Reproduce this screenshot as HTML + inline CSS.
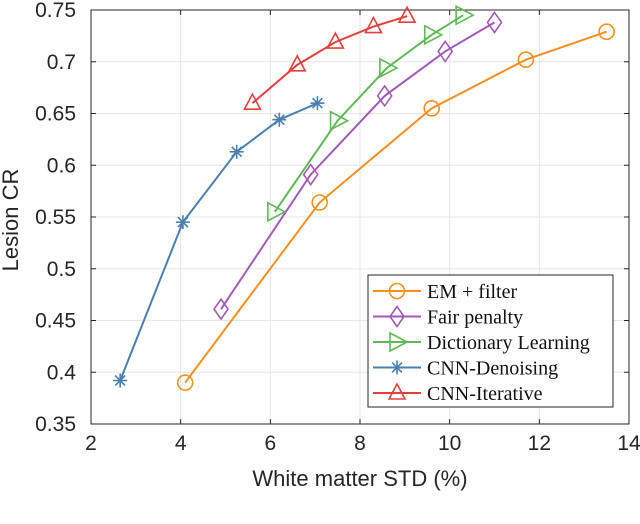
<!DOCTYPE html>
<html><head><meta charset="utf-8"><style>
body{margin:0;background:#fff;width:640px;height:519px;overflow:hidden}
svg text{font-family:"Liberation Sans",sans-serif}
</style></head><body>
<svg id="chart" width="640" height="519" xmlns="http://www.w3.org/2000/svg"></svg>
<script>
const xTicks=[2,4,6,8,10,12,14];
const yTicks=[0.35,0.4,0.45,0.5,0.55,0.6,0.65,0.7,0.75];
const yTickLabels=["0.35","0.4","0.45","0.5","0.55","0.6","0.65","0.7","0.75"];
const seriesNames=["EM + filter","Fair penalty","Dictionary Learning","CNN-Denoising","CNN-Iterative"];
const emX=[4.1,7.1,9.6,11.7,13.5];
const emY=[0.39,0.564,0.655,0.702,0.729];
const fairX=[4.9,6.9,8.55,9.9,11];
const fairY=[0.461,0.591,0.667,0.71,0.738];
const dictX=[6.1,7.5,8.6,9.6,10.3];
const dictY=[0.555,0.643,0.694,0.726,0.745];
const cnndX=[2.65,4.05,5.25,6.2,7.05];
const cnndY=[0.392,0.545,0.613,0.644,0.66];
const cnniX=[5.6,6.6,7.45,8.3,9.05];
const cnniY=[0.66,0.697,0.719,0.734,0.744];

const L=91,R=629,T=10,B=424;
const xs=v=>L+(v-2)/12*(R-L);
const ys=v=>B-(v-0.35)/0.4*(B-T);
const svg=document.getElementById('chart');
const NS="http://www.w3.org/2000/svg";
function mk(tag,at,parent){const e=document.createElementNS(NS,tag);for(const k in at)e.setAttribute(k,at[k]);(parent||svg).appendChild(e);return e;}

const grid=mk('g',{});


xTicks.forEach(t=>{mk('line',{x1:xs(t),x2:xs(t),y1:T,y2:B,stroke:'#e6e6e6','stroke-width':1},grid);});
yTicks.forEach(t=>{mk('line',{x1:L,x2:R,y1:ys(t),y2:ys(t),stroke:'#e6e6e6','stroke-width':1},grid);});
const fr=mk('rect',{x:L,y:T,width:R-L,height:B-T,fill:'none',stroke:'#262626','stroke-width':1});


xTicks.forEach(t=>{
  mk('line',{x1:xs(t),x2:xs(t),y1:B,y2:B-5,stroke:'#262626'});
  mk('line',{x1:xs(t),x2:xs(t),y1:T,y2:T+5,stroke:'#262626'});
  const tx=mk('text',{x:xs(t),y:B+26,'text-anchor':'middle','font-size':21,fill:'#262626'});
  tx.textContent=t;
  
  
});
yTicks.forEach((t,i)=>{
  mk('line',{x1:L,x2:L+5,y1:ys(t),y2:ys(t),stroke:'#262626'});
  mk('line',{x1:R,x2:R-5,y1:ys(t),y2:ys(t),stroke:'#262626'});
  const tx=mk('text',{x:L-15,y:ys(t)+7,'text-anchor':'end','font-size':21,fill:'#262626'});
  tx.textContent=yTickLabels[i];
  
  
});
const xt=mk('text',{x:(L+R)/2,y:486,'text-anchor':'middle','font-size':22,fill:'#262626'});
xt.textContent='White matter STD (%)';


const yt=mk('text',{x:0,y:0,'text-anchor':'middle','font-size':22,fill:'#262626',transform:'translate(18,220) rotate(-90)'});
yt.textContent='Lesion CR';



function marker(g,type,x,y,c){
  const s={fill:'none',stroke:c,'stroke-width':1.6};
  if(type==='o')mk('circle',Object.assign({cx:x,cy:y,r:7.5},s),g);
  else if(type==='d')mk('polygon',Object.assign({points:`${x},${y-10} ${x+7},${y} ${x},${y+10} ${x-7},${y}`},s),g);
  else if(type==='>')mk('polygon',Object.assign({points:`${x-7},${y-9} ${x+10},${y} ${x-7},${y+9}`},s),g);
  else if(type==='^')mk('polygon',Object.assign({points:`${x},${y-9} ${x+8},${y+6} ${x-8},${y+6}`},s),g);
  else if(type==='*'){for(let a=0;a<4;a++){const an=a*Math.PI/4,dx=7*Math.cos(an),dy=7*Math.sin(an);mk('line',Object.assign({x1:x-dx,y1:y-dy,x2:x+dx,y2:y+dy},s),g);}}
}
const series=[
 {x:emX,y:emY,c:'#f7901e',m:'o',n:'series-em-filter'},
 {x:fairX,y:fairY,c:'#a25ab8',m:'d',n:'series-fair-penalty'},
 {x:dictX,y:dictY,c:'#5fb955',m:'>',n:'series-dictionary-learning'},
 {x:cnndX,y:cnndY,c:'#4a7fb0',m:'*',n:'series-cnn-denoising'},
 {x:cnniX,y:cnniY,c:'#e5403c',m:'^',n:'series-cnn-iterative'}];
series.forEach(s=>{
  const g=mk('g',{});
  
  
  mk('polyline',{points:s.x.map((v,i)=>xs(v)+','+ys(s.y[i])).join(' '),fill:'none',stroke:s.c,'stroke-width':2},g);
  s.x.forEach((v,i)=>marker(g,s.m,xs(v),ys(s.y[i]),s.c));
});
const lg=mk('g',{});


mk('rect',{x:368,y:275,width:245,height:132,fill:'#fff',stroke:'#262626','stroke-width':1},lg);
series.forEach((s,i)=>{
  const y=291+i*25.5;
  const e=mk('g',{},lg);
  
  
  mk('line',{x1:373,x2:421,y1:y,y2:y,stroke:s.c,'stroke-width':2},e);
  marker(e,s.m,397,y,s.c);
  const t=mk('text',{x:427,y:y+7,'font-size':20,fill:'#111',textLength:0},e);
  t.removeAttribute('textLength');
  t.setAttribute('style','font-family:"Liberation Serif",serif');
  t.textContent=seriesNames[i];
});
</script>
</body></html>
